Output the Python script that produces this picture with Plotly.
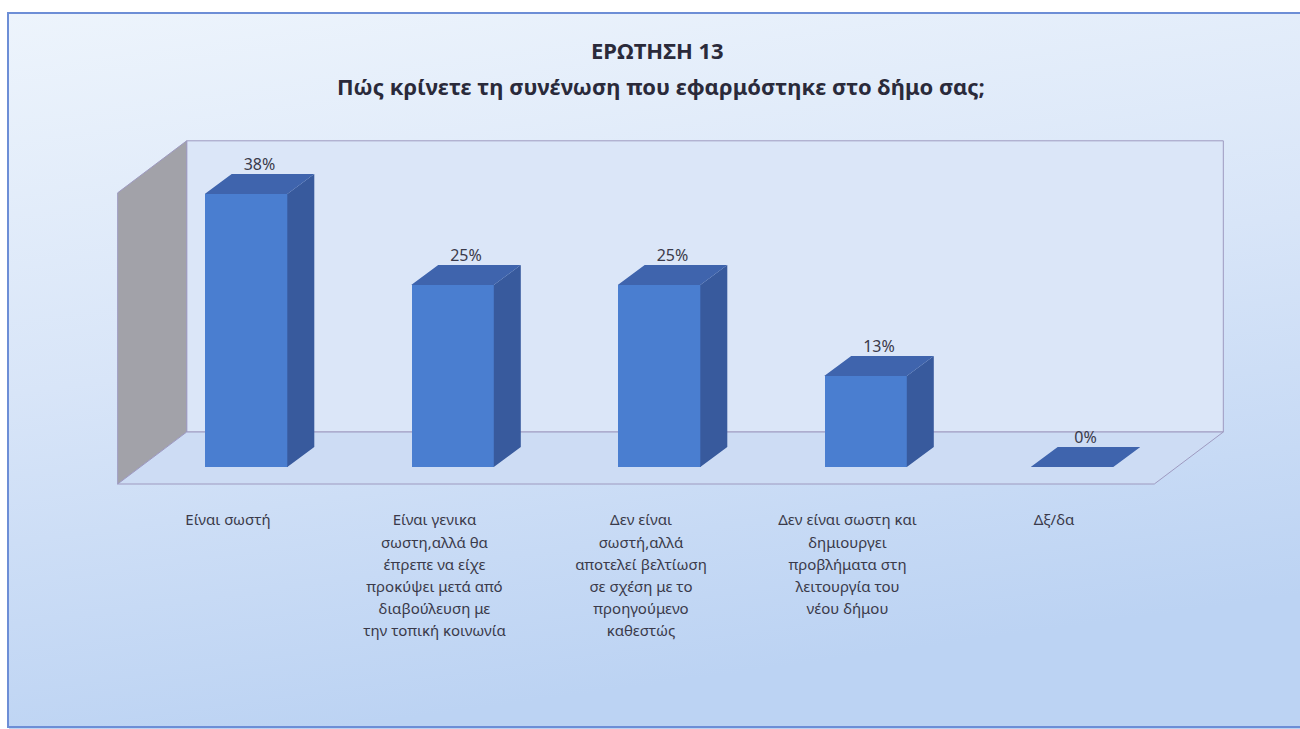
import math
import base64
import plotly.graph_objects as go

# ---------------- data ----------------
title_line1 = "ΕΡΩΤΗΣΗ 13"
title_line2 = "Πώς κρίνετε τη συνένωση που εφαρμόστηκε στο δήμο σας;"
categories = [
    ["Είναι σωστή"],
    ["Είναι γενικα", "σωστη,αλλά θα", "έπρεπε να είχε", "προκύψει μετά από",
     "διαβούλευση με", "την τοπική κοινωνία"],
    ["Δεν είναι", "σωστή,αλλά", "αποτελεί βελτίωση", "σε σχέση με το",
     "προηγούμενο", "καθεστώς"],
    ["Δεν είναι σωστη και", "δημιουργει", "προβλήματα στη", "λειτουργία του",
     "νέου δήμου"],
    ["Δξ/δα"],
]
values = [37.5, 25.0, 25.0, 12.5, 0.0]          # percent
value_labels = [f"{math.floor(v + 0.5)}%" for v in values]
wall_max = 40                                    # top of the 3-D walls (percent)

# ---------------- geometry / style ----------------
W, H = 1300, 729
X_RANGE = (-1.0, 5.0)
Y_RANGE = (-5.0, 50.0)
PX_X0, PX_PER_X = 246.0, 206.5     # pixel of category 0, pixels per category
PY_Y0, PX_PER_Y = 467.0, 7.28      # pixel of value 0, pixels per percent

x_dom = [(PX_X0 + X_RANGE[0] * PX_PER_X) / W, (PX_X0 + X_RANGE[1] * PX_PER_X) / W]
y_dom = [1 - (PY_Y0 - Y_RANGE[0] * PX_PER_Y) / H, 1 - (PY_Y0 - Y_RANGE[1] * PX_PER_Y) / H]


def dxu(px):
    return px / PX_PER_X


def dyu(px_up):
    return px_up / PX_PER_Y


n = len(values)
bar_w = 0.40
bdx, bdy = dxu(27), dyu(20)        # bar depth
fdx, fdy = dxu(-23), dyu(-17)      # floor front plane offset
kdx, kdy = dxu(46), dyu(35)        # back wall plane offset
xl, xr = -0.51, n - 1 + 0.51

FRONT = "#4a7ed0"
TOP = "#3f64ad"
SIDE = "#385a9d"
BACK_WALL = "#dbe6f8"
FLOOR = "#cddcf4"
LEFT_WALL = "#a2a2a9"
EDGE = "#9e9ac0"
TEXT = "#3a3a4a"
FONT = "Noto Sans"

fig = go.Figure()

# front faces
fig.add_trace(go.Bar(
    x=list(range(n)), y=values, width=bar_w,
    marker=dict(color=FRONT, line=dict(width=0)),
    hoverinfo="skip", showlegend=False,
))

# side and top faces
sx, sy, tx, ty = [], [], [], []
for i, v in enumerate(values):
    l, r = i - bar_w / 2, i + bar_w / 2
    sx += [r, r + bdx, r + bdx, r, r, None]
    sy += [0, bdy, v + bdy, v, 0, None]
    tx += [l, r, r + bdx, l + bdx, l, None]
    ty += [v, v, v + bdy, v + bdy, v, None]

fig.add_trace(go.Scatter(x=sx, y=sy, mode="lines", fill="toself", fillcolor=SIDE,
                         line=dict(width=0, color=SIDE), hoverinfo="skip", showlegend=False))
fig.add_trace(go.Scatter(x=tx, y=ty, mode="lines", fill="toself", fillcolor=TOP,
                         line=dict(width=0, color=TOP), hoverinfo="skip", showlegend=False))

# value labels
fig.add_trace(go.Scatter(
    x=[i + bdx / 2 for i in range(n)], y=[v + bdy for v in values],
    mode="text", text=value_labels, textposition="top center",
    textfont=dict(family=FONT, size=16, color=TEXT),
    hoverinfo="skip", showlegend=False, cliponaxis=False,
))


# walls and floor
def path(pts):
    return "M " + " L ".join(f"{x},{y}" for x, y in pts) + " Z"


shapes = [
    dict(type="path", xref="x", yref="y", layer="below",
         path=path([(xl + kdx, kdy), (xr + kdx, kdy), (xr + kdx, wall_max + kdy), (xl + kdx, wall_max + kdy)]),
         fillcolor=BACK_WALL, line=dict(color=EDGE, width=1)),
    dict(type="path", xref="x", yref="y", layer="below",
         path=path([(xl + fdx, fdy), (xl + kdx, kdy), (xl + kdx, wall_max + kdy), (xl + fdx, wall_max + fdy)]),
         fillcolor=LEFT_WALL, line=dict(color=EDGE, width=1)),
    dict(type="path", xref="x", yref="y", layer="below",
         path=path([(xl + fdx, fdy), (xr + fdx, fdy), (xr + kdx, kdy), (xl + kdx, kdy)]),
         fillcolor=FLOOR, line=dict(color=EDGE, width=1)),
    dict(type="rect", xref="paper", yref="paper", layer="above",
         x0=8 / W, x1=1.02, y0=1 - 727 / H, y1=1 - 13 / H,
         line=dict(color="#6d8ed6", width=2), fillcolor="rgba(0,0,0,0)"),
]

# background gradient as svg image
svg = ("<svg xmlns='http://www.w3.org/2000/svg' width='1291' height='715' preserveAspectRatio='none'>"
       "<defs><linearGradient id='g' x1='0' y1='0' x2='0.25' y2='1'>"
       "<stop offset='0' stop-color='#edf4fc'/><stop offset='0.5' stop-color='#d8e5f8'/>"
       "<stop offset='1' stop-color='#bcd3f3'/></linearGradient></defs>"
       "<rect width='1291' height='715' fill='url(#g)'/></svg>")
bg_src = "data:image/svg+xml;base64," + base64.b64encode(svg.encode()).decode()

ticktext = ["<br>".join(f"<span style='font-size:15px'>{s}</span>" for s in lines)
            for lines in categories]

fig.update_layout(
    width=W, height=H,
    margin=dict(l=0, r=0, t=0, b=0),
    paper_bgcolor="white", plot_bgcolor="rgba(0,0,0,0)",
    shapes=shapes,
    images=[dict(source=bg_src, xref="paper", yref="paper", x=9 / W, y=1 - 14 / H,
                 sizex=1291 / W, sizey=715 / H, sizing="stretch", layer="below",
                 xanchor="left", yanchor="top")],
    annotations=[
        dict(text=f"<b>{title_line1}</b>", xref="paper", yref="paper", x=657 / W, y=1 - 50 / H,
             showarrow=False, xanchor="center", yanchor="middle",
             font=dict(family=FONT, size=22, color="#2a2a3a")),
        dict(text=f"<b>{title_line2}</b>", xref="paper", yref="paper", x=661 / W, y=1 - 86 / H,
             showarrow=False, xanchor="center", yanchor="middle",
             font=dict(family=FONT, size=22, color="#2a2a3a")),
    ],
    xaxis=dict(range=list(X_RANGE), domain=x_dom, showgrid=False, zeroline=False,
               showline=False, ticks="", tickvals=list(range(n)), ticktext=ticktext,
               tickfont=dict(family=FONT, size=17, color=TEXT), ticklabelshift=-18,
               ticklabelstandoff=4, fixedrange=True),
    yaxis=dict(range=list(Y_RANGE), domain=y_dom, visible=False, fixedrange=True),
    bargap=0,
)

fig.write_html("out.html", config={"displayModeBar": False},
               post_script="document.body.style.margin='0';")
